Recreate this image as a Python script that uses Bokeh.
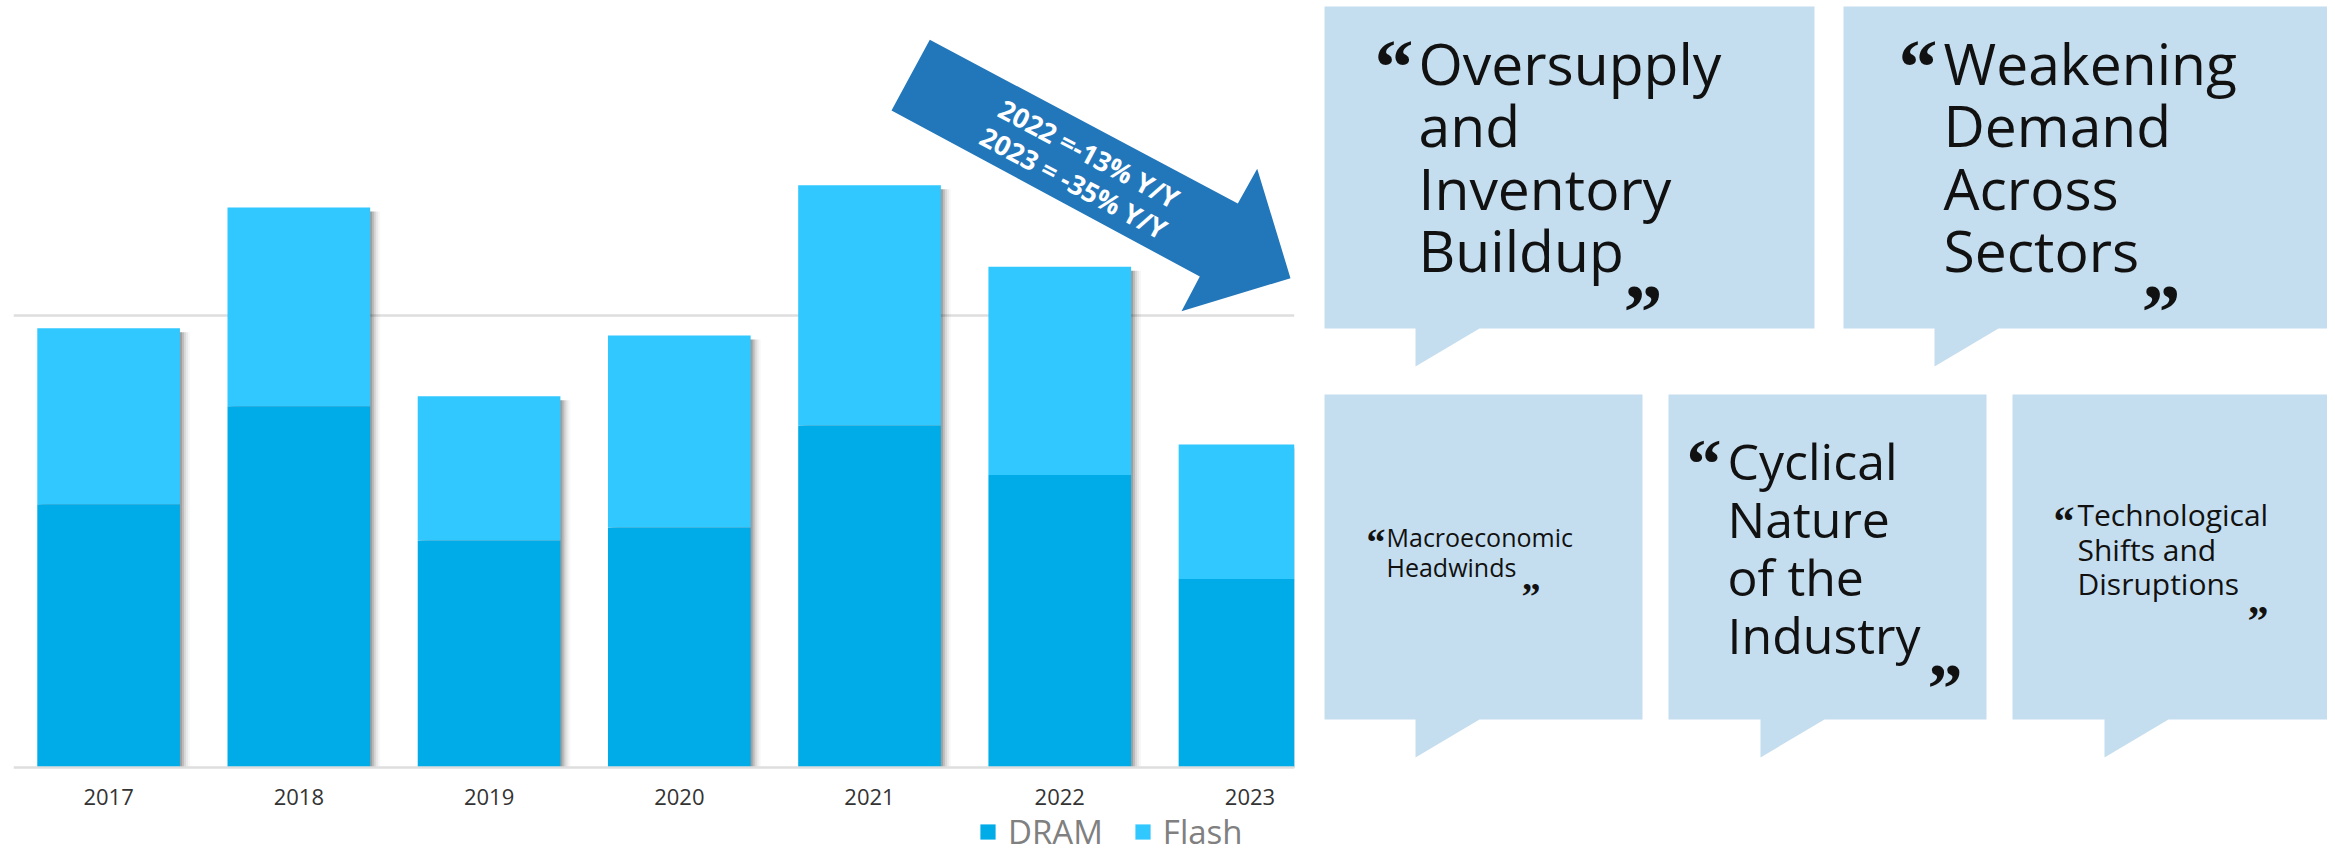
import math
from bokeh.plotting import figure
from bokeh.models import Range1d, FixedTicker, Legend, LegendItem, ColumnDataSource
from bokeh.layouts import row
from bokeh.embed import file_html
from bokeh.resources import INLINE
from bokeh.core.properties import value

# ---------------- data ----------------
years = ["2017", "2018", "2019", "2020", "2021", "2022", "2023"]
dram = [72.8, 99.9, 62.8, 66.4, 94.6, 80.9, 52.1]
flash = [48.7, 55.0, 39.9, 53.1, 66.4, 57.6, 37.2]
series_names = ["DRAM", "Flash"]
grid_value = 125
arrow_lines = ["2022 =-13% Y/Y", "2023 = -35% Y/Y"]

bubble_lines = [
    ["Oversupply", "and", "Inventory", "Buildup"],
    ["Weakening", "Demand", "Across", "Sectors"],
    ["Macroeconomic", "Headwinds"],
    ["Cyclical", "Nature", "of the", "Industry"],
    ["Technological", "Shifts and", "Disruptions"],
]

# ---------------- styles ----------------
DRAM_C = "#00ACE8"
FLASH_C = "#30C8FF"
ARROW_C = "#2277BB"
BUBBLE_C = "#C5DEEF"
FONT = "Open Sans"
QFONT = "Liberation Serif"

# ---------------- left chart ----------------
H = 855
W1 = 1300
FRAME_L, FRAME_R = 13, 6         # frame from screen x 13 to 1294
BASE_PX = 767                    # screen y of the zero line
PX_PER_UNIT = 3.616
x_start, x_end = -0.5, 6.234
y_start, y_end = -(H - BASE_PX) / PX_PER_UNIT, BASE_PX / PX_PER_UNIT

p = figure(width=W1, height=H, output_backend="svg", toolbar_location=None,
           x_range=Range1d(x_start, x_end), y_range=Range1d(y_start, y_end),
           min_border_left=FRAME_L, min_border_right=FRAME_R,
           min_border_top=0, min_border_bottom=0)
p.outline_line_color = None
p.background_fill_color = "white"
p.border_fill_color = "white"

xs = list(range(len(years)))
totals = [d + f for d, f in zip(dram, flash)]
src = ColumnDataSource(dict(x=xs, DRAM=dram, Flash=flash))

frame_w_px = W1 - FRAME_L - FRAME_R
px_x = (x_end - x_start) / frame_w_px
px_y = 1.0 / PX_PER_UNIT

# soft drop shadow on the right side of each bar
for off, a in [(2, 0.16), (4, 0.12), (6, 0.08), (8, 0.05), (10, 0.03)]:
    p.vbar(x=[v + off * px_x for v in xs], top=[t - 4 * px_y for t in totals], bottom=0,
           width=0.75, fill_color="black", fill_alpha=a, line_alpha=0)

rs = p.vbar_stack(series_names, x="x", width=0.75, source=src,
                  fill_color=[DRAM_C, FLASH_C], line_alpha=0)

p.yaxis.visible = False
p.xgrid.visible = False
p.ygrid.ticker = FixedTicker(ticks=[grid_value])
p.ygrid.grid_line_color = "#dedede"
p.ygrid.grid_line_width = 2.5

p.xaxis.fixed_location = 0
p.xaxis.ticker = FixedTicker(ticks=xs)
p.xaxis.major_label_overrides = {i: y for i, y in zip(xs, years)}
p.xaxis.major_tick_line_color = None
p.xaxis.minor_tick_line_color = None
p.xaxis.axis_line_color = "#dedede"
p.xaxis.axis_line_width = 2.5
p.xaxis.major_label_text_font = FONT
p.xaxis.major_label_text_font_size = "22px"
p.xaxis.major_label_text_color = "#333333"
p.xaxis.major_label_standoff = 15

# arrow annotation (layout positions in screen px -> data coords)
def dx(sx):
    return x_start + (sx - FRAME_L) * px_x

def dy(sy):
    return (BASE_PX - sy) * px_y

arrow_px = [(929.3, 39.3), (1237.3, 203.0), (1256.7, 168.3), (1290.0, 277.7),
            (1181.0, 310.7), (1199.3, 276.0), (891.0, 110.0)]
p.patch([dx(a) for a, b in arrow_px], [dy(b) for a, b in arrow_px],
        fill_color=ARROW_C, line_alpha=0)
ang = -math.atan2(164.0, 308.0)
arrow_text_px = [(1088.7, 152.9), (1073.3, 182.1)]
p.text(x=[dx(a) for a, b in arrow_text_px], y=[dy(b) for a, b in arrow_text_px],
       text=arrow_lines, angle=ang, text_font=value(FONT), text_font_style="bold",
       text_font_size="27px", text_color="white", text_align="center",
       text_baseline="middle")

legend = Legend(items=[LegendItem(label=n, renderers=[r]) for n, r in zip(series_names, rs)],
                orientation="horizontal", location=(965, 1),
                glyph_width=19, glyph_height=19, label_standoff=11, spacing=30,
                padding=0, margin=0, background_fill_alpha=0, border_line_alpha=0,
                label_text_font=FONT, label_text_font_size="33px",
                label_text_color="#808080")
p.add_layout(legend, "center")

# ---------------- right panel (speech bubbles) ----------------
X0 = 1300
W2 = 1027
q = figure(width=W2, height=H, output_backend="svg", toolbar_location=None,
           x_range=Range1d(X0, X0 + W2), y_range=Range1d(H, 0), min_border=0)
q.axis.visible = False
q.grid.visible = False
q.outline_line_color = None

# (x0, x1, y0, y1, tail_x0, tail_x1, tail_tip_y)
bubble_boxes = [
    (1324, 1814, 6, 328, 1415, 1479, 366),
    (1843, 2335, 6, 328, 1934, 1998, 366),
    (1324, 1642, 394, 719, 1415, 1479, 757),
    (1668, 1986, 394, 719, 1760, 1824, 757),
    (2012, 2335, 394, 719, 2104, 2168, 757),
]
bx, by = [], []
for x0, x1, y0, y1, t0, t1, tip in bubble_boxes:
    bx.append([x0, x1, x1, t1, t0, t0, x0])
    by.append([y0, y0, y1, y1, tip, y1, y1])
q.patches(bx, by, fill_color=BUBBLE_C, line_alpha=0)

# (x, first line y, line step, font px, open quote (x, y, px), close quote (x, y, px))
text_layout = [
    (1418, 62, 62.5, 57, (1374, 66, 78), (1623, 311, 78)),
    (1943, 62, 62.5, 57, (1898, 66, 78), (2141, 311, 78)),
    (1386, 536, 30, 25, (1366, 541, 38), (1521, 595, 38)),
    (1727, 460, 58, 50, (1686, 463, 70), (1927, 688, 70)),
    (2077, 514, 34.5, 30, (2053, 520, 42), (2247, 620, 42)),
]
for lines, (tx, tb, step, fs, oq, cq) in zip(bubble_lines, text_layout):
    q.text(x=[tx] * len(lines), y=[tb + i * step for i in range(len(lines))], text=lines,
           text_font=value(FONT), text_font_size=f"{fs}px", text_color="#111111",
           text_align="left", text_baseline="alphabetic")
    q.text(x=[oq[0]], y=[oq[1]], text=["\u201c"], text_font=value(QFONT),
           text_font_style="bold", text_font_size=f"{oq[2]}px", text_color="#111111",
           text_align="left", text_baseline="alphabetic")
    q.text(x=[cq[0]], y=[cq[1]], text=["\u201d"], text_font=value(QFONT),
           text_font_style="bold", text_font_size=f"{cq[2]}px", text_color="#111111",
           text_align="left", text_baseline="alphabetic")

layout = row(p, q)
open("out.html", "w").write(file_html(layout, INLINE))
